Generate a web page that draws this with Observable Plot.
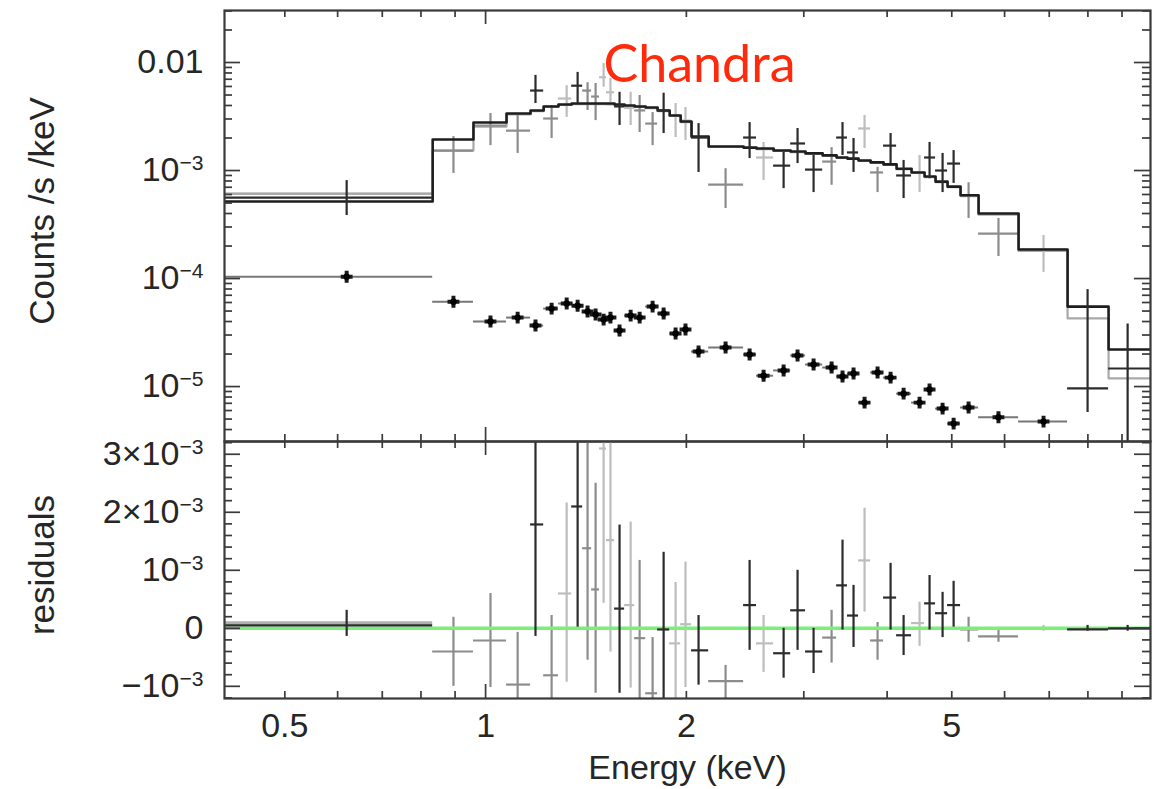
<!DOCTYPE html>
<html><head><meta charset="utf-8">
<script src="https://cdn.jsdelivr.net/npm/d3@7"></script>
<script src="https://cdn.jsdelivr.net/npm/@observablehq/plot@0.6"></script>
<style>
body{margin:0;background:#fff;}
#wrap{position:relative;width:1154px;height:789px;overflow:hidden;background:#fff;}
#top,#bot{position:absolute;left:0;}
#top{top:0;}
#bot{top:439px;}
</style></head><body><div id="wrap"><div id="top"></div><div id="bot"></div></div>
<script>
// ---------- data (energies in keV) ----------
const binEdges = [0.406, 0.833, 0.959, 1.075, 1.168, 1.222, 1.286, 1.346, 1.398, 1.442, 1.482, 1.518, 1.561, 1.616, 1.673, 1.738, 1.811, 1.888, 1.961, 2.036, 2.160, 2.437, 2.548, 2.703, 2.867, 3.018, 3.202, 3.360, 3.488, 3.624, 3.778, 3.951, 4.133, 4.352, 4.552, 4.728, 4.928, 5.154, 5.485, 6.297, 7.458, 8.592, 9.93];
const pointE = [0.619, 0.895, 1.017, 1.117, 1.188, 1.256, 1.323, 1.374, 1.422, 1.462, 1.503, 1.539, 1.588, 1.650, 1.702, 1.780, 1.849, 1.927, 1.994, 2.086, 2.290, 2.488, 2.611, 2.798, 2.936, 3.103, 3.302, 3.429, 3.562, 3.700, 3.870, 4.048, 4.234, 4.474, 4.631, 4.844, 5.032, 5.299, 5.875, 6.864, 7.991, 9.176];
// shade of each data point: d = dark, m = mid grey, l = light grey
const shade = ["d","m","m","m","d","m","l","d","m","m","l","l","d","l","m","m","d","l","l","d","m","d","l","d","d","d","m","d","d","l","m","d","d","l","d","d","d","m","m","l","d","d"];
const counts = [5.6e-4, 1.53e-3, 2.61e-3, 2.34e-3, 5.5e-3, 3.03e-3, 4.64e-3, 6.1e-3, 5.5e-3, 4.84e-3, 7.3e-3, 5.3e-3, 3.92e-3, 3.8e-3, 3.6e-3, 2.72e-3, 3.6e-3, 3.23e-3, 2.9e-3, 2.02e-3, 7.4e-4, 2.02e-3, 1.32e-3, 1.11e-3, 1.78e-3, 1.02e-3, 1.21e-3, 2.02e-3, 1.47e-3, 2.45e-3, 9.6e-4, 1.70e-3, 9.0e-4, 9.6e-4, 1.32e-3, 1.0e-3, 1.16e-3, 5.9e-4, 2.6e-4, 1.86e-4, 9.6e-6, 1.47e-5];
const countsLo = [3.83e-4, 9.4e-4, 1.70e-3, 1.44e-3, 4.17e-3, 1.98e-3, 3.1e-3, 4.17e-3, 3.6e-3, 2.9e-3, 5.9e-3, 4.26e-3, 2.61e-3, 2.61e-3, 2.25e-3, 1.70e-3, 2.2e-3, 2.02e-3, 1.90e-3, 9.6e-4, 4.45e-4, 1.29e-3, 8.1e-4, 6.8e-4, 1.16e-3, 6.25e-4, 7.3e-4, 1.38e-3, 9.6e-4, 1.60e-3, 6.25e-4, 1.16e-3, 5.5e-4, 6.25e-4, 8.4e-4, 6.25e-4, 7.6e-4, 3.6e-4, 1.6e-4, 1.14e-4, 5.75e-6, 1e-7];
const countsHi = [8.07e-4, 2.06e-3, 3.37e-3, 3.23e-3, 7.6e-3, 4.0e-3, 6.1e-3, 8.1e-3, 6.5e-3, 6.4e-3, 9.8e-3, 7.1e-3, 5.3e-3, 5.3e-3, 4.95e-3, 3.44e-3, 5.2e-3, 4.17e-3, 3.83e-3, 2.72e-3, 1.04e-3, 2.78e-3, 1.82e-3, 1.47e-3, 2.45e-3, 1.38e-3, 1.63e-3, 2.78e-3, 1.98e-3, 3.23e-3, 1.07e-3, 2.2e-3, 1.24e-3, 1.38e-3, 1.82e-3, 1.44e-3, 1.53e-3, 7.7e-4, 3.6e-4, 2.5e-4, 7.9e-5, 3.8e-5];
const modelDark = [5.16e-4, 1.94e-3, 2.78e-3, 3.37e-3, 3.6e-3, 3.92e-3, 4.08e-3, 4.17e-3, 4.17e-3, 4.17e-3, 4.17e-3, 4.17e-3, 4.08e-3, 4.0e-3, 3.92e-3, 3.83e-3, 3.6e-3, 3.23e-3, 2.84e-3, 2.06e-3, 1.67e-3, 1.63e-3, 1.60e-3, 1.53e-3, 1.50e-3, 1.44e-3, 1.38e-3, 1.32e-3, 1.29e-3, 1.24e-3, 1.19e-3, 1.14e-3, 1.04e-3, 9.6e-4, 8.8e-4, 7.9e-4, 7.1e-4, 5.9e-4, 4.0e-4, 1.86e-4, 5.5e-5, 2.2e-5];
const modelLight = [6.1e-4, 1.53e-3, 2.55e-3, 3.3e-3, 3.55e-3, 3.9e-3, 4.05e-3, 4.12e-3, 4.12e-3, 4.12e-3, 4.12e-3, 4.1e-3, 4.03e-3, 3.95e-3, 3.88e-3, 3.78e-3, 3.55e-3, 3.2e-3, 2.8e-3, 2.04e-3, 1.66e-3, 1.62e-3, 1.58e-3, 1.52e-3, 1.48e-3, 1.43e-3, 1.37e-3, 1.31e-3, 1.28e-3, 1.23e-3, 1.18e-3, 1.13e-3, 1.03e-3, 9.5e-4, 8.7e-4, 7.8e-4, 7.0e-4, 5.8e-4, 3.9e-4, 1.8e-4, 4.27e-5, 1.19e-5];
const background = [1.04e-4, 6.1e-5, 4.0e-5, 4.35e-5, 3.67e-5, 5.27e-5, 5.87e-5, 5.6e-5, 4.95e-5, 4.64e-5, 4.17e-5, 4.35e-5, 3.3e-5, 4.54e-5, 4.35e-5, 5.5e-5, 4.74e-5, 3.1e-5, 3.37e-5, 2.11e-5, 2.3e-5, 1.98e-5, 1.26e-5, 1.41e-5, 1.94e-5, 1.6e-5, 1.5e-5, 1.24e-5, 1.32e-5, 7.1e-6, 1.35e-5, 1.21e-5, 8.6e-6, 7.1e-6, 9.4e-6, 6.25e-6, 4.54e-6, 6.4e-6, 5.2e-6, 4.74e-6, null, null];
// residuals in units of 1e-3
const resid = [0.05, -0.40, -0.21, -0.97, 1.79, -0.81, 0.60, 2.10, 1.38, 0.67, 3.10, 1.52, 0.34, 0.40, -0.17, -1.12, -0.02, -0.26, 0.07, -0.38, -0.91, 0.40, -0.26, -0.43, 0.31, -0.40, -0.16, 0.74, 0.22, 1.17, -0.21, 0.53, -0.12, 0.09, 0.43, 0.26, 0.40, -0.02, -0.14, 0.0, -0.02, 0.0];
const residLo = [-0.14, -1.00, -1.02, -1.30, -0.14, -1.30, -0.93, 0.02, -0.55, -1.12, 0.43, -0.41, -1.12, -1.03, -1.30, -1.30, -1.30, -1.30, -1.02, -0.98, -1.30, -0.38, -0.76, -0.86, -0.38, -0.78, -0.60, -0.03, -0.33, 0.28, -0.55, -0.03, -0.47, -0.31, -0.03, -0.16, 0.02, -0.24, -0.24, -0.05, -0.05, -0.05];
const residHi = [0.31, 0.19, 0.60, -0.07, 3.40, 0.22, 2.16, 3.40, 3.40, 2.50, 3.40, 3.40, 1.78, 1.83, 1.17, -0.16, 1.31, 0.79, 1.14, 0.22, -0.64, 1.17, 0.22, 0.00, 1.00, 0.00, 0.31, 1.52, 0.74, 2.07, 0.10, 1.12, 0.22, 0.45, 0.91, 0.62, 0.81, 0.19, -0.02, 0.05, 0.05, 0.05];
// light spectrum point in the first (wide) bin: [counts, residual x1e-3]
const firstBinLight = [6.1e-4, 0.09];

// tick values and labels
const xMinorTicks = [0.5, 0.6, 0.7, 0.8, 0.9, 2, 3, 4, 5, 6, 7, 8, 9];
const xMajorTicks = [1];
const xLabelTicks = [0.5, 1, 2, 5];
const xLabels = ["0.5", "1", "2", "5"];
const yTopTicks = [1e-2, 1e-3, 1e-4, 1e-5];
const yTopLabels = ["0.01", "10^\u22123", "10^\u22124", "10^\u22125"];
const yBotTicks = [3e-3, 2e-3, 1e-3, 0, -1e-3];
const yBotLabels = ["3\u00d710^\u22123", "2\u00d710^\u22123", "10^\u22123", "0", "\u221210^\u22123"];

// ---------- layout ----------
const W = 1154, ML = 224, MR = 4, PW = W - ML - MR;
const xDomain = [0.406, 9.93];
const topH = 443, topMT = 10, topMB = 2, topPH = topH - topMT - topMB;
const botH = 350, botMT = 2, botMB = 91, botPH = botH - botMT - botMB;
const font = "'Liberation Sans', Arial, Helvetica, sans-serif";
const tone = {d: "#2c2c2c", m: "#8c8c8c", l: "#bdbdbd"};
const frameColor = "#3a3a3a";

const bins = pointE.map((e, i) => ({
  e, e0: binEdges[i], e1: binEdges[i + 1], s: shade[i],
  c: counts[i], c0: countsLo[i], c1: countsHi[i],
  bg: background[i],
  r: resid[i] * 1e-3, r0: residLo[i] * 1e-3, r1: residHi[i] * 1e-3
}));
const darkBins = bins.filter(b => b.s === "d");
const greyBins = bins.filter(b => b.s !== "d");
const bgBins = bins.filter(b => b.bg != null);
const extraLight = [{e: pointE[0], e0: binEdges[0], e1: binEdges[1], c: firstBinLight[0], r: firstBinLight[1] * 1e-3}];
const stepPts = vals => binEdges.map((x, i) => ({x, y: vals[Math.min(i, vals.length - 1)]}));

function frameTicks(PH, yMinor, yMajor) {
  const o = {stroke: frameColor, strokeWidth: 1.7};
  return [
    Plot.tickX(xMinorTicks, {x: d => d, insetTop: PH - 7, ...o}),
    Plot.tickX(xMinorTicks, {x: d => d, insetBottom: PH - 7, ...o}),
    Plot.tickX(xMajorTicks, {x: d => d, insetTop: PH - 14, ...o}),
    Plot.tickX(xMajorTicks, {x: d => d, insetBottom: PH - 14, ...o}),
    Plot.tickY(yMinor, {y: d => d, insetRight: PW - 8, ...o}),
    Plot.tickY(yMinor, {y: d => d, insetLeft: PW - 8, ...o}),
    Plot.tickY(yMajor, {y: d => d, insetRight: PW - 16, ...o}),
    Plot.tickY(yMajor, {y: d => d, insetLeft: PW - 16, ...o})
  ];
}

function supify(svg) {
  d3.select(svg).selectAll("text").each(function () {
    const t = this.textContent;
    const m = t.match(/^(.*)\^(.*)$/);
    if (!m) return;
    const sel = d3.select(this);
    sel.text(null);
    sel.append("tspan").text(m[1]);
    sel.append("tspan").attr("dy", "-0.55em").attr("font-size", "0.62em").text(m[2]);
  });
}

// ---------- top panel ----------
const yTopDomain = [3.1e-6, 3.03e-2];
const topMinor = d3.scaleLog().domain(yTopDomain).ticks().filter(v => Math.abs(Math.log10(v) - Math.round(Math.log10(v))) > 1e-6);

const topChart = Plot.plot({
  width: W, height: topH, marginTop: topMT, marginBottom: topMB, marginLeft: ML, marginRight: MR,
  style: {background: "transparent", fontFamily: font, fontSize: "34px", color: "#262626", overflow: "visible"},
  x: {type: "log", domain: xDomain, axis: null},
  y: {type: "log", domain: yTopDomain, axis: null},
  color: {type: "identity"},
  marks: [
    Plot.line(stepPts(modelLight), {x: "x", y: "y", curve: "step-after", stroke: "#a9a9a9", strokeWidth: 2.2, clip: true}),
    Plot.ruleY(extraLight, {y: "c", x1: "e0", x2: "e1", stroke: "#a9a9a9", strokeWidth: 2}),
    Plot.ruleX(greyBins, {x: "e", y1: "c0", y2: "c1", stroke: d => tone[d.s], strokeWidth: 2.2, clip: true}),
    Plot.ruleY(greyBins, {y: "c", x1: "e0", x2: "e1", stroke: d => tone[d.s], strokeWidth: 2.2, clip: true}),
    Plot.line(stepPts(modelDark), {x: "x", y: "y", curve: "step-after", stroke: "#1e1e1e", strokeWidth: 2.6, clip: true}),
    Plot.ruleX(darkBins, {x: "e", y1: "c0", y2: "c1", stroke: tone.d, strokeWidth: 2.2, clip: true}),
    Plot.ruleY(darkBins, {y: "c", x1: "e0", x2: "e1", stroke: tone.d, strokeWidth: 2.2, clip: true}),
    Plot.ruleY(bgBins, {y: "bg", x1: "e0", x2: "e1", stroke: "#777", strokeWidth: 2}),
    Plot.dot(bgBins, {x: "e", y: "bg", symbol: "cross", r: 5, fill: "#1a1a1a"}),
    Plot.dot(bgBins, {x: "e", y: "bg", r: 3.2, fill: "#000"}),
    Plot.frame({stroke: frameColor, strokeWidth: 2.2}),
    ...frameTicks(topPH, topMinor, yTopTicks),
    Plot.axisY({ticks: yTopTicks, tickFormat: d => yTopLabels[yTopTicks.indexOf(d)], tickSize: 0, tickPadding: 21, fontSize: 34}),
    Plot.text(["Counts /s /keV"], {text: d => d, frameAnchor: "left", rotate: -90, dx: -182, dy: -15, fontSize: 35, textAnchor: "middle"}),
    Plot.text(["Chandra"], {text: d => d, frameAnchor: "top-left", dx: 475, dy: 35, fontSize: 52, fontFamily: "Lato, 'Open Sans', sans-serif", fill: "#ff2a0c", textAnchor: "middle"})
  ]
});
supify(topChart);
document.getElementById("top").appendChild(topChart);

// ---------- bottom panel (residuals) ----------
const yBotDomain = [-1.21e-3, 3.22e-3];
const botMinor = d3.range(-12, 33, 2).filter(v => v % 10 !== 0).map(v => v * 1e-4);

const botChart = Plot.plot({
  width: W, height: botH, marginTop: botMT, marginBottom: botMB, marginLeft: ML, marginRight: MR,
  style: {background: "transparent", fontFamily: font, fontSize: "34px", color: "#262626", overflow: "visible"},
  x: {type: "log", domain: xDomain, axis: null},
  y: {domain: yBotDomain, axis: null},
  color: {type: "identity"},
  marks: [
    Plot.ruleY(extraLight, {y: "r", x1: "e0", x2: "e1", stroke: "#b0b0b0", strokeWidth: 3.5}),
    Plot.ruleX(greyBins, {x: "e", y1: "r0", y2: "r1", stroke: d => tone[d.s], strokeWidth: 2.2, clip: true}),
    Plot.ruleY(greyBins, {y: "r", x1: "e0", x2: "e1", stroke: d => tone[d.s], strokeWidth: 2.2, clip: true}),
    Plot.ruleY([0], {stroke: "#7af07a", strokeWidth: 3.5}),
    Plot.ruleX(darkBins, {x: "e", y1: "r0", y2: "r1", stroke: tone.d, strokeWidth: 2.2, clip: true}),
    Plot.ruleY(darkBins, {y: "r", x1: "e0", x2: "e1", stroke: tone.d, strokeWidth: 2.2, clip: true}),
    Plot.frame({stroke: frameColor, strokeWidth: 2.2}),
    ...frameTicks(botPH, botMinor, yBotTicks),
    Plot.axisY({ticks: yBotTicks, tickFormat: d => yBotLabels[yBotTicks.indexOf(d)], tickSize: 0, tickPadding: 21, fontSize: 34}),
    Plot.axisX({ticks: xLabelTicks, tickFormat: d => xLabels[xLabelTicks.indexOf(d)], tickSize: 0, tickPadding: 14, fontSize: 34}),
    Plot.text(["residuals"], {text: d => d, frameAnchor: "left", rotate: -90, dx: -182, dy: -5, fontSize: 35, textAnchor: "middle"}),
    Plot.text(["Energy (keV)"], {text: d => d, frameAnchor: "bottom", dy: 80, fontSize: 34, textAnchor: "middle"})
  ]
});
supify(botChart);
document.getElementById("bot").appendChild(botChart);
</script>
</body></html>
